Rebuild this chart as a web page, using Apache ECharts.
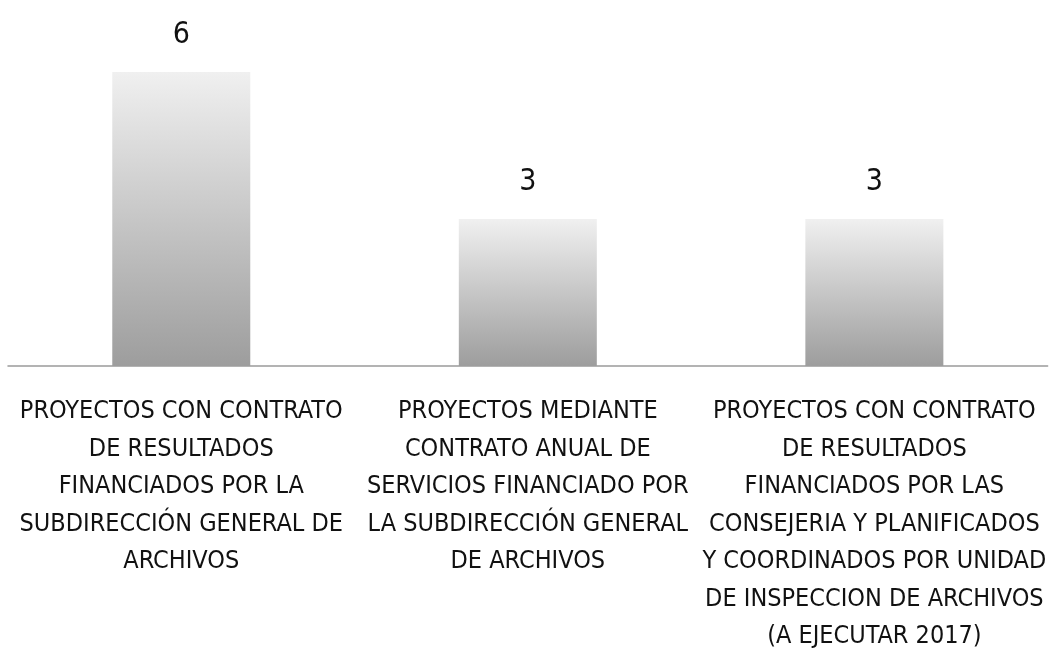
<!DOCTYPE html>
<html><head><meta charset="utf-8">
<script src="https://cdn.jsdelivr.net/npm/echarts@6/dist/echarts.min.js"></script>
<style>html,body{margin:0;padding:0;background:#fff}#c{width:1049px;height:666px}</style>
</head><body><div id="c"></div>
<script>
const categories = [
  "PROYECTOS CON CONTRATO\nDE RESULTADOS\nFINANCIADOS POR LA\nSUBDIRECCIÓN GENERAL DE\nARCHIVOS",
  "PROYECTOS MEDIANTE\nCONTRATO ANUAL DE\nSERVICIOS FINANCIADO POR\nLA SUBDIRECCIÓN GENERAL\nDE ARCHIVOS",
  "PROYECTOS CON CONTRATO\nDE RESULTADOS\nFINANCIADOS POR LAS\nCONSEJERIA Y PLANIFICADOS\nY COORDINADOS POR UNIDAD\nDE INSPECCION DE ARCHIVOS\n(A EJECUTAR 2017)"
];
const values = [6, 3, 3];

const FONT = '"DejaVu Sans Condensed", "DejaVu Sans", sans-serif';
const chart = echarts.init(document.getElementById('c'));
chart.setOption({
  animation: false,
  grid: {left: 8, right: 0, top: 72, bottom: 300, containLabel: false},
  xAxis: {
    type: 'category', data: categories,
    axisLine: {lineStyle: {color: '#9a9a9a', width: 1.5}},
    axisTick: {show: false},
    axisLabel: {interval: 0, margin: 27, color: '#111', fontFamily: FONT, fontSize: 25, lineHeight: 37.5, align: 'center'}
  },
  yAxis: {type: 'value', min: 0, max: 6, show: false, splitLine: {show: false}},
  series: [{
    type: 'bar', data: values, barWidth: 138,
    itemStyle: {color: new echarts.graphic.LinearGradient(0,0,0,1,[{offset:0,color:'#f0f0f0'},{offset:1,color:'#9d9d9d'}])},
    label: {show: true, position: 'top', distance: 22, color: '#111', fontFamily: FONT, fontSize: 30}
  }]
});
</script></body></html>
